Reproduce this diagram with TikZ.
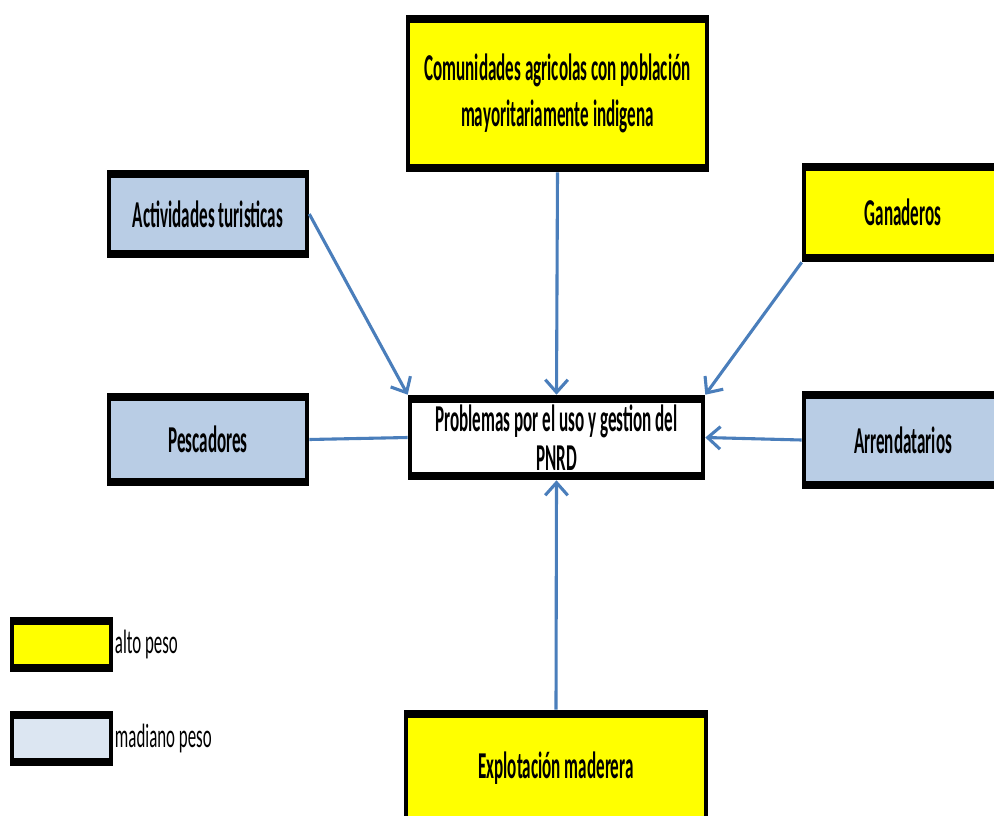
\documentclass[tikz,border=0pt]{standalone}
\usepackage{fontspec}
\usepackage{tikz}
\usetikzlibrary{arrows.meta, positioning, calc}
\newfontfamily\cajafont[FakeStretch=0.45]{Carlito}
\newfontfamily\leyfont[FakeStretch=0.5]{Carlito}
\definecolor{Amarillo}{HTML}{FFFF00}
\definecolor{Celeste}{HTML}{B9CDE5}
\definecolor{CelesteClaro}{HTML}{DCE6F2}
\definecolor{Flecha}{HTML}{4A7EBB}
\tikzset{
  caja/.style={rectangle, fill=black, inner sep=0pt, align=center,
    font=\cajafont\bfseries\fontsize{27}{28}\selectfont,
    path picture={\fill[#1]
      ($(path picture bounding box.north west)+(0.1cm,-0.21cm)$) rectangle
      ($(path picture bounding box.south east)+(-0.1cm,0.21cm)$);}},
  leyenda/.style={font=\leyfont\fontsize{24}{26}\selectfont, inner sep=0pt},
  flecha/.style={draw=Flecha, line width=2.2pt,
    -{Straight Barb[length=9pt, width=16pt, line width=2.2pt]}},
  linea/.style={draw=Flecha, line width=2.2pt}
}

\begin{document}
\begin{tikzpicture}[x=0.025cm, y=-0.025cm]
    \clip (0,0) rectangle (994,816);

    % Central problem
    \node[caja=white, minimum width=7.425cm, minimum height=2.125cm]
        (prob) at (556.5,437.5) {Problemas por el uso y gestion del\\PNRD};

    % Actors
    \node[caja=Amarillo, minimum width=7.575cm, minimum height=3.925cm]
        (comu) at (557.5,93.5) {Comunidades agricolas con población\\[5pt]
        mayoritariamente indigena};
    \node[caja=Celeste, minimum width=5.05cm, minimum height=2.2cm]
        (turi) at (208,214) {Actividades turisticas};
    \node[caja=Amarillo, minimum width=5.05cm, minimum height=2.475cm]
        (gana) at (903,212.5) {Ganaderos};
    \node[caja=Celeste, minimum width=5.05cm, minimum height=2.325cm]
        (pesc) at (208,439.5) {Pescadores};
    \node[caja=Celeste, minimum width=5.05cm, minimum height=2.45cm]
        (arre) at (903,440) {Arrendatarios};
    \node[caja=Amarillo, minimum width=7.6cm, minimum height=2.9cm]
        (made) at (556,768) {Explotación maderera};

    % Connectors
    \draw[flecha] (comu.south) -- (prob.north);
    \draw[flecha] (turi.east) -- (prob.north west);
    \draw[flecha] (gana.south west) -- (prob.north east);
    \draw[linea] (pesc.east) -- (prob.west);
    \draw[flecha] (arre.west) -- (prob.east);
    \draw[flecha] (made.north) -- (prob.south);

    % Legend
    \node[caja=Amarillo, minimum width=2.575cm, minimum height=1.375cm]
        (altob) at (61.5,644.5) {};
    \node[caja=CelesteClaro, minimum width=2.575cm, minimum height=1.375cm]
        (medib) at (61.5,738.5) {};
    \node[leyenda, right=1pt of altob] (altot) {alto peso};
    \node[leyenda, right=1pt of medib] (medit) {madiano peso};
\end{tikzpicture}
\end{document}
